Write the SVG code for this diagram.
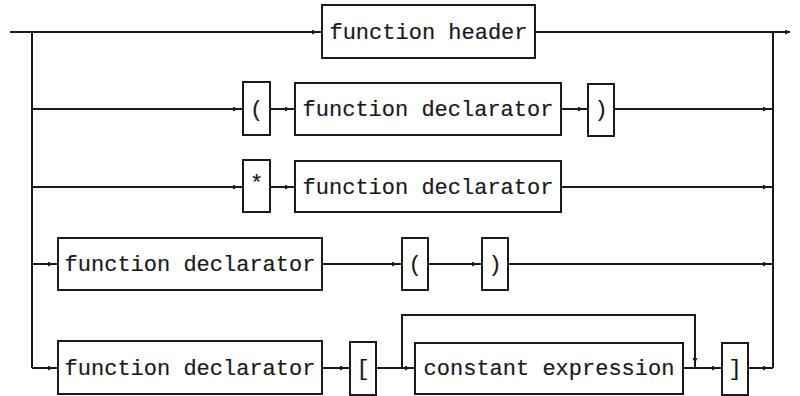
<svg xmlns="http://www.w3.org/2000/svg" width="800" height="396" viewBox="0 0 800 396">
  <style>
    .box { fill: #fff; stroke: #1a1a1a; stroke-width: 2; }
    .lbl { font-family: "Liberation Mono", "DejaVu Sans Mono", monospace; font-size: 22px; fill: #1a1a1a; stroke: #1a1a1a; stroke-width: 0.2; }
    .mid { text-anchor: middle; }
    .wire { fill: none; stroke: #1a1a1a; stroke-width: 2; }
  </style>
  <defs>
    <!-- small filled head drawn a few pixels short of the line end -->
    <marker id="ah" markerWidth="14" markerHeight="8" refX="10" refY="2.5" orient="auto" markerUnits="userSpaceOnUse">
      <path d="M0,0 L5,2.5 L0,5 z" fill="#1a1a1a"/>
    </marker>
    <marker id="ahEnd" markerWidth="8" markerHeight="8" refX="5" refY="2.5" orient="auto" markerUnits="userSpaceOnUse">
      <path d="M0,0 L5,2.5 L0,5 z" fill="#1a1a1a"/>
    </marker>
  </defs>
  <rect width="800" height="396" fill="#fff"/>

  <g id="connectors">
    <!-- main rails -->
    <path class="wire" d="M10,32 H322" marker-end="url(#ah)"/>
    <path class="wire" d="M535,32 H790" marker-end="url(#ahEnd)"/>
    <path class="wire" d="M32,32 V368"/>
    <path class="wire" d="M773,32 V368"/>
    <!-- row 2 -->
    <path class="wire" d="M32,109 H243" marker-end="url(#ah)"/>
    <path class="wire" d="M270,109 H295" marker-end="url(#ah)"/>
    <path class="wire" d="M561,109 H588" marker-end="url(#ah)"/>
    <path class="wire" d="M614,109 H773" marker-end="url(#ah)"/>
    <!-- row 3 -->
    <path class="wire" d="M32,187 H243" marker-end="url(#ah)"/>
    <path class="wire" d="M270,187 H295" marker-end="url(#ah)"/>
    <path class="wire" d="M561,187 H773" marker-end="url(#ah)"/>
    <!-- row 4 -->
    <path class="wire" d="M32,264 H58" marker-end="url(#ah)"/>
    <path class="wire" d="M322,264 H402" marker-end="url(#ah)"/>
    <path class="wire" d="M428,264 H482" marker-end="url(#ah)"/>
    <path class="wire" d="M508,264 H773" marker-end="url(#ah)"/>
    <!-- row 5 -->
    <path class="wire" d="M32,368 H58" marker-end="url(#ah)"/>
    <path class="wire" d="M322,368 H350" marker-end="url(#ah)"/>
    <path class="wire" d="M376,368 H415" marker-end="url(#ah)"/>
    <path class="wire" d="M683,368 H722" marker-end="url(#ah)"/>
    <path class="wire" d="M748,368 H773" marker-end="url(#ah)"/>
    <!-- bypass over constant expression -->
    <path class="wire" d="M402,368 V315 H695 V368" marker-end="url(#ah)"/>
  </g>

  <g id="function-header">
    <rect class="box" x="322" y="5" width="213" height="53"/>
    <text class="lbl mid" x="428.5" y="39">function header</text>
  </g>

  <g id="lparen-1">
    <rect class="box" x="243" y="82" width="27" height="53"/>
    <text class="lbl mid" x="256.5" y="116">(</text>
  </g>
  <g id="declarator-1">
    <rect class="box" x="295" y="83" width="266" height="52"/>
    <text class="lbl mid" x="428" y="116">function declarator</text>
  </g>
  <g id="rparen-1">
    <rect class="box" x="588" y="84" width="26" height="52"/>
    <text class="lbl mid" x="601" y="116">)</text>
  </g>

  <g id="star">
    <rect class="box" x="243" y="160" width="27" height="52"/>
    <text class="lbl mid" x="256.5" y="190">*</text>
  </g>
  <g id="declarator-2">
    <rect class="box" x="295" y="161" width="266" height="51"/>
    <text class="lbl mid" x="428" y="194">function declarator</text>
  </g>

  <g id="declarator-3">
    <rect class="box" x="58" y="238" width="264" height="52"/>
    <text class="lbl mid" x="190" y="271">function declarator</text>
  </g>
  <g id="lparen-2">
    <rect class="box" x="402" y="238" width="26" height="52"/>
    <text class="lbl mid" x="415" y="271">(</text>
  </g>
  <g id="rparen-2">
    <rect class="box" x="482" y="238" width="26" height="52"/>
    <text class="lbl mid" x="495" y="271">)</text>
  </g>

  <g id="declarator-4">
    <rect class="box" x="58" y="341" width="264" height="53"/>
    <text class="lbl mid" x="190" y="375">function declarator</text>
  </g>
  <g id="lbracket">
    <rect class="box" x="350" y="342" width="26" height="53"/>
    <text class="lbl mid" x="363" y="375">[</text>
  </g>
  <g id="constant-expression">
    <rect class="box" x="415" y="343" width="268" height="51"/>
    <text class="lbl mid" x="549" y="375">constant expression</text>
  </g>
  <g id="rbracket">
    <rect class="box" x="722" y="343" width="26" height="52"/>
    <text class="lbl mid" x="735" y="375">]</text>
  </g>
</svg>
